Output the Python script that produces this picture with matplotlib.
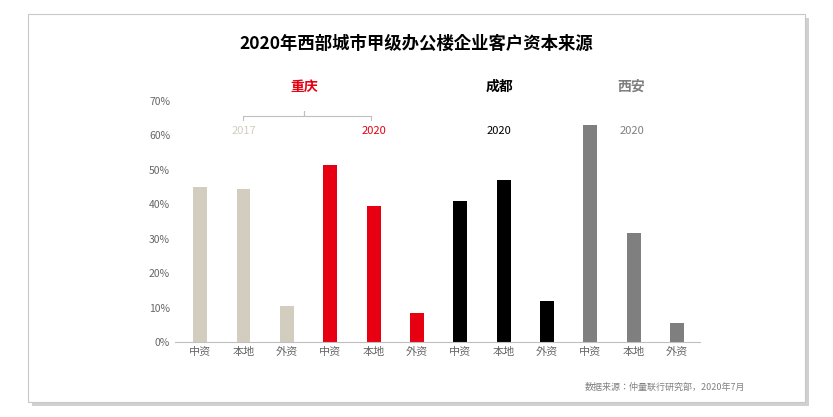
import matplotlib.pyplot as plt
from matplotlib.patches import Rectangle
from matplotlib import font_manager
import numpy as np

# pick an installed CJK font
cjk = [f.name for f in font_manager.fontManager.ttflist if 'CJK' in f.name]
cjk = sorted(set(cjk), key=lambda n: (0 if 'SC' in n else 1, n))
plt.rcParams['font.family'] = cjk + ['DejaVu Sans']

# data
categories = ['中资', '本地', '外资']
cq_2017 = [45, 44.5, 10.5]
cq_2020 = [51.5, 39.5, 8.5]
cd_2020 = [41, 47, 12]
xa_2020 = [63, 31.5, 5.5]
yticks = [0, 10, 20, 30, 40, 50, 60, 70]

groups = [cq_2017, cq_2020, cd_2020, xa_2020]
colors = ['#D3CDBF', '#E60012', '#000000', '#7F7F7F']

fig = plt.figure(figsize=(8.33, 4.17), dpi=100)
# frame with shadow
fig.patches.append(Rectangle((32/833, 1-406/417), 777/833, 388/417, transform=fig.transFigure,
                             facecolor='#d0d0d0', edgecolor='none', zorder=-3))
fig.patches.append(Rectangle((28/833, 1-402/417), 777/833, 388/417, transform=fig.transFigure,
                             facecolor='white', edgecolor='#c8c8c8', lw=0.8, zorder=-2))

ax = fig.add_axes([0.21, 0.18, 0.63, 0.578])
ax.set_facecolor('none')
xs, labels = [], []
for i, (vals, c) in enumerate(zip(groups, colors)):
    x = np.arange(3) + i * 3
    ax.bar(x, vals, width=0.32, color=c)
    xs += list(x)
    labels += categories

ax.set_xlim(-0.58, 11.52)
ax.set_ylim(0, 70)
ax.set_yticks(yticks)
ax.set_yticklabels([f'{v}%' for v in yticks], fontsize=7.5, color='#666666')
ax.set_xticks(xs)
ax.set_xticklabels(labels, fontsize=8, color='#666666')
ax.tick_params(length=0)
for s in ['top', 'right', 'left']:
    ax.spines[s].set_visible(False)
ax.spines['bottom'].set_color('#bfbfbf')

# group labels
ax.text(2.4, 73, '重庆', color='#E60012', fontsize=10, fontweight='bold', ha='center', clip_on=False)
ax.text(6.9, 73, '成都', color='black', fontsize=10, fontweight='bold', ha='center', clip_on=False)
ax.text(9.95, 73, '西安', color='#7F7F7F', fontsize=10, fontweight='bold', ha='center', clip_on=False)
ax.text(1, 60.5, '2017', color='#D3CDBF', fontsize=8, ha='center')
ax.text(4, 60.5, '2020', color='#E60012', fontsize=8, ha='center')
ax.text(6.9, 60.5, '2020', color='black', fontsize=8, ha='center')
ax.text(9.95, 60.5, '2020', color='#7F7F7F', fontsize=8, ha='center')
# bracket
ax.plot([1, 1, 2.4, 2.4, 2.4, 3.95, 3.95], [64.5, 65.5, 65.5, 67, 65.5, 65.5, 64.5],
        color='#bfbfbf', lw=0.8, clip_on=False)

fig.text(0.5, 1-44/417, '2020年西部城市甲级办公楼企业客户资本来源', fontsize=12.5,
         fontweight='bold', ha='center', va='center')
fig.text(745/833, 1-387/417, '数据来源：仲量联行研究部，2020年7月', fontsize=6.5,
         color='#808080', ha='right', va='center')

fig.savefig('out.png', dpi=100)
